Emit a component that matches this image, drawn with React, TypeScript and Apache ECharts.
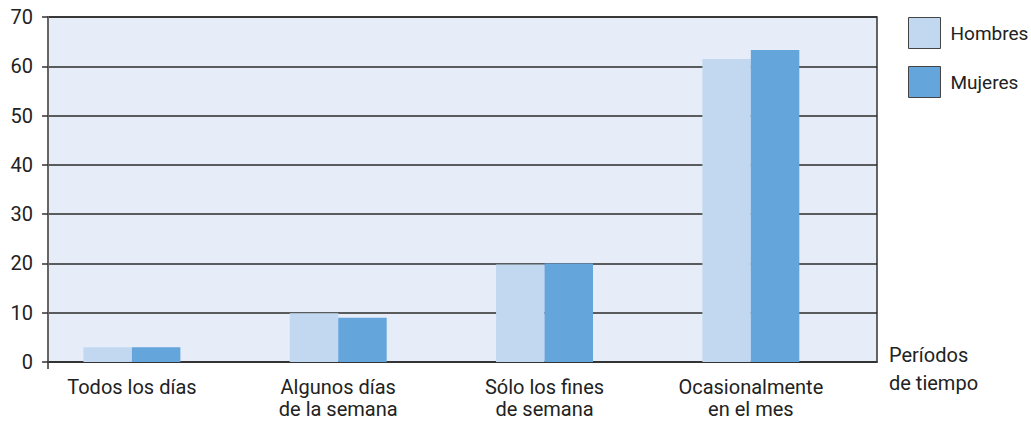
import React, { useEffect, useRef } from "react";
import * as echarts from "echarts";

const categories = ["Todos los días", "Algunos días\nde la semana", "Sólo los fines\nde semana", "Ocasionalmente\nen el mes"];
const hombres = [3.0, 9.9, 19.8, 61.5];
const mujeres = [3.0, 9.0, 20.0, 63.3];
const seriesNames = ["Hombres", "Mujeres"];
const yTicks = [0, 10, 20, 30, 40, 50, 60, 70];
const axisTitle = "Períodos\nde tiempo";

const FONT = "Roboto";
const FS = 20;

export default function App() {
  const ref = useRef<HTMLDivElement>(null);
  useEffect(() => {
    const chart = echarts.init(ref.current!, undefined, { renderer: "svg" });
    const top = 17;
    const h = 345;
    chart.setOption({
      animation: false,
      textStyle: { fontFamily: FONT },
      legend: {
        orient: "vertical",
        left: 903,
        top: 12,
        width: 128,
        itemWidth: 32,
        itemHeight: 31,
        itemGap: 17,
        icon: "rect",
        data: seriesNames,
        textStyle: { fontSize: 19, color: "#222", fontFamily: FONT, padding: [0, 0, 0, 5], overflow: "none", width: 90 },
        itemStyle: { borderColor: "#444", borderWidth: 1 },
      },
      grid: [
        { left: 48, top, width: 829, height: h, show: true, backgroundColor: "#E6EDF8", borderColor: "#333", borderWidth: 1.5 },
        { left: 28.75, width: 825.25, top, height: h },
      ],
      xAxis: [
        { type: "value", gridIndex: 0, min: 0, max: 1, show: true, axisLabel: { show: false }, axisTick: { show: false }, splitLine: { show: false }, axisLine: { show: true, lineStyle: { color: "#333", width: 1.5 } } },
        { type: "category", gridIndex: 1, data: categories, axisLine: { show: false }, axisTick: { show: false }, axisLabel: { fontSize: FS, color: "#222", margin: 14, lineHeight: 22, fontFamily: FONT } },
      ],
      yAxis: [
        {
          type: "value", gridIndex: 0, min: yTicks[0], max: yTicks[yTicks.length - 1], interval: 10,
          axisLine: { show: true, lineStyle: { color: "#666", width: 2 } },
          axisTick: { show: true, length: 6, lineStyle: { color: "#333", width: 1.5 } },
          axisLabel: { fontSize: FS, color: "#222", margin: 15, fontFamily: FONT },
          splitLine: { show: true, lineStyle: { color: "#2a2a2a", width: 1.5 } },
        },
        { type: "value", gridIndex: 1, min: 0, max: 70, interval: 10, show: false },
      ],
      series: [
        { name: seriesNames[0], type: "bar", xAxisIndex: 1, yAxisIndex: 1, data: hombres, itemStyle: { color: "#C2D8F0" }, barGap: "0%", barCategoryGap: "53%" },
        { name: seriesNames[1], type: "bar", xAxisIndex: 1, yAxisIndex: 1, data: mujeres, itemStyle: { color: "#64A5DB" } },
      ],
      graphic: [
        { type: "line", shape: { x1: 48, y1: 362, x2: 48, y2: 369 }, style: { stroke: "#666", lineWidth: 2 } },
        { type: "text", left: 889, top: 341, style: { text: axisTitle, fontSize: FS, fill: "#222", fontFamily: FONT, lineHeight: 28 } },
      ],
    });
    return () => chart.dispose();
  }, []);
  return <div ref={ref} style={{ position: "absolute", left: 0, top: 0, width: 1031, height: 421 }} />;
}
